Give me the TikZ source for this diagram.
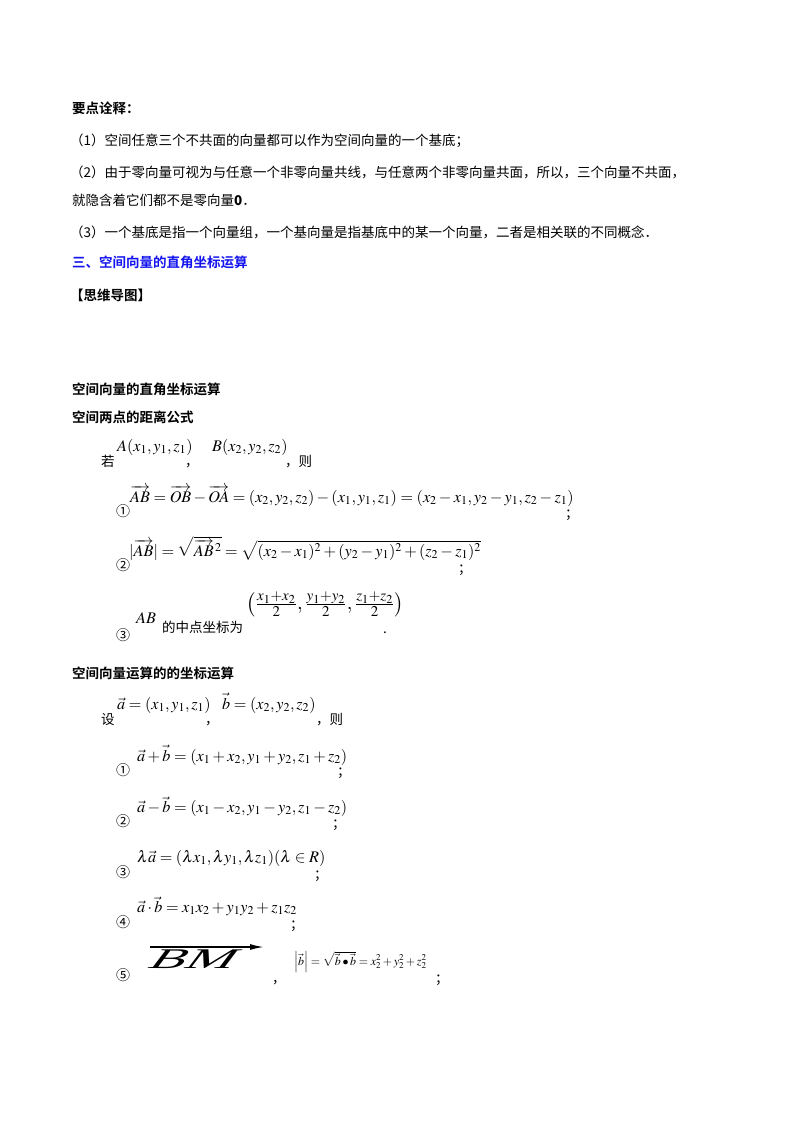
\RequirePackage{fix-cm}
\documentclass[tikz,border=0pt]{standalone}
\usepackage{amsmath}
\usepackage{mathptmx}
\usepackage{fontspec}
\usetikzlibrary{arrows.meta}
\setmainfont{Liberation Serif}
\newfontfamily\cjk{Noto Sans CJK SC}
\newfontfamily\cjkb{Noto Sans CJK SC Bold}
\begin{document}
\begin{tikzpicture}[x=1pt,y=-1pt,
  every node/.style={inner sep=0pt,anchor=base west},
  tx/.style={font=\cjk\fontsize{13.5}{16}\selectfont},
  hd/.style={font=\cjkb\fontsize{13.5}{16}\selectfont},
  mt/.style={font=\fontsize{15}{18}\selectfont,scale=1.08},
  num/.style={font=\cjk\fontsize{14}{16}\selectfont}]
\useasboundingbox (0,0) rectangle (800,1132);
\fill[white] (0,0) rectangle (800,1132);
\node[hd] (h1) at (72,113) {要点诠释：};
\node[tx] (p1) at (70,145) {（1）空间任意三个不共面的向量都可以作为空间向量的一个基底；};
\node[tx] (p2) at (70,177) {（2）由于零向量可视为与任意一个非零向量共线，与任意两个非零向量共面，所以，三个向量不共面，};
\node[tx] (p2b) at (72,205) {就隐含着它们都不是零向量\textbf{0}．};
\node[tx] (p3) at (70,237) {（3）一个基底是指一个向量组，一个基向量是指基底中的某一个向量，二者是相关联的不同概念．};
\node[hd,text={rgb,255:red,20;green,20;blue,240}] (h2) at (72,267) {三、空间向量的直角坐标运算};
\node[hd] (h3) at (70,300) {【思维导图】};
\node[hd] (h4) at (72,394) {空间向量的直角坐标运算};
\node[hd] (h5) at (72,422) {空间两点的距离公式};
\node[tx] (r) at (101,466) {若};
\node[mt] (A) at (117,451) {$A(x_1,y_1,z_1)$};
\node[tx] (c1) at (185,466) {，};
\node[mt] (B) at (212,451) {$B(x_2,y_2,z_2)$};
\node[tx] (c2) at (285,466) {，则};
\node[num] (n1) at (116,516) {①};
\node[mt] (f1) at (130,502) {$\overrightarrow{AB}=\overrightarrow{OB}-\overrightarrow{OA}=(x_2,y_2,z_2)-(x_1,y_1,z_1)=(x_2-x_1,y_2-y_1,z_2-z_1)$};
\node[tx] (s1) at (565,518) {；};
\node[num] (n2) at (116,570) {②};
\node[mt] (f2) at (129,556) {$|\overrightarrow{AB}|=\sqrt{\overrightarrow{AB}^{\,2}}=\sqrt{(x_2-x_1)^2+(y_2-y_1)^2+(z_2-z_1)^2}$};
\node[tx] (s2) at (458,573) {；};
\node[num] (n3) at (116,640) {③};
\node[mt] (ab) at (136,623) {$AB$};
\node[tx] (mid) at (162,632) {的中点坐标为};
\node[mt,anchor=west,scale=1.25] (fr) at (246,604) {$\left(\frac{x_1+x_2}{2},\frac{y_1+y_2}{2},\frac{z_1+z_2}{2}\right)$};
\node[tx] (d3) at (383,633) {.};
\node[hd] (h6) at (72,678) {空间向量运算的的坐标运算};
\node[tx] (sh) at (101,724) {设};
\node[mt] (va) at (117,709) {$\vec a=(x_1,y_1,z_1)$};
\node[tx] (c3) at (205,724) {，};
\node[mt] (vb) at (222,709) {$\vec b=(x_2,y_2,z_2)$};
\node[tx] (c4) at (316,724) {，则};
\node[num] (m1) at (116,775) {①};
\node[mt] (g1) at (137,761) {$\vec a+\vec b=(x_1+x_2,y_1+y_2,z_1+z_2)$};
\node[tx] (t1) at (337,776) {；};
\node[num] (m2) at (116,826) {②};
\node[mt] (g2) at (137,812) {$\vec a-\vec b=(x_1-x_2,y_1-y_2,z_1-z_2)$};
\node[tx] (t2) at (332,828) {；};
\node[num] (m3) at (116,877) {③};
\node[mt] (g3) at (137,862) {$\lambda\vec a=(\lambda x_1,\lambda y_1,\lambda z_1)(\lambda\in R)$};
\node[tx] (t3) at (314,879) {；};
\node[num] (m4) at (116,927) {④};
\node[mt] (g4) at (137,912) {$\vec a\cdot\vec b=x_1x_2+y_1y_2+z_1z_2$};
\node[tx] (t4) at (290,929) {；};
\node[num] (m5) at (116,980) {⑤};
\node[font=\fontsize{15}{18}\selectfont,anchor=base west] (bm) at (146,968) {\scalebox{3.6}[1.9]{\fontspec{Liberation Serif}[FakeSlant=0.4] BM}};
\draw[line width=1.6pt,-{Latex[length=14pt,width=6pt]}] (150,947) -- (264,947);
\node[tx] (c5) at (272,983) {，};
\node[font=\fontsize{12}{14}\selectfont] (g5) at (294,965) {$\left|\vec b\right|=\sqrt{\vec b\bullet\vec b}=x_2^2+y_2^2+z_2^2$};
\node[tx] (t5) at (435,983) {；};
\end{tikzpicture}
\end{document}
